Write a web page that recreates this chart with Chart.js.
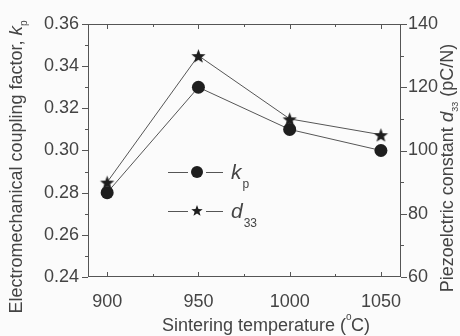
<!DOCTYPE html>
<html>
<head>
<meta charset="utf-8">
<script src="https://cdn.jsdelivr.net/npm/chart.js@4.4.1/dist/chart.umd.min.js"></script>
<style>
  html, body { margin: 0; padding: 0; background: #fbfbfb; }
  #wrap { width: 460px; height: 336px; position: relative; }
</style>
</head>
<body>
<div id="wrap"><canvas id="c" width="460" height="336"></canvas></div>
<script>
// data
const temps = [900, 950, 1000, 1050];
const kpValues = [0.28, 0.33, 0.31, 0.30];
const d33Values = [90, 130, 110, 105];
const xTickLabels = [900, 950, 1000, 1050];
const kpTicks = [0.24, 0.26, 0.28, 0.30, 0.32, 0.34, 0.36];
const d33Ticks = [60, 80, 100, 120, 140];

const INK = '#444';
const LINE = '#555';
const MARK = '#1e1e1e';
const FONT = '"Liberation Sans", Arial, sans-serif';

// filled five-point star for the d33 markers
function makeStar(r, color) {
  const cv = document.createElement('canvas');
  const s = Math.ceil(r * 2 + 2);
  cv.width = s; cv.height = s;
  const g = cv.getContext('2d');
  g.fillStyle = color;
  g.beginPath();
  for (let i = 0; i < 10; i++) {
    const rad = i % 2 === 0 ? r : r * 0.42;
    const a = -Math.PI / 2 + i * Math.PI / 5;
    const px = s / 2 + rad * Math.cos(a), py = s / 2 + 1 + rad * Math.sin(a);
    i ? g.lineTo(px, py) : g.moveTo(px, py);
  }
  g.closePath(); g.fill();
  return cv;
}
const star = makeStar(7.5, MARK);
const smallStar = makeStar(6, MARK);

// tick marks, frame, axis titles and legend drawn on top
const decor = {
  id: 'decor',
  afterDraw(chart) {
    const { ctx, chartArea: a, scales } = chart;
    const x = scales.x, yl = scales.y, yr = scales.y2;
    ctx.save();
    ctx.strokeStyle = LINE; ctx.lineWidth = 1;
    ctx.strokeRect(a.left + 0.5, a.top + 0.5, a.right - a.left - 1, a.bottom - a.top - 1);
    const seg = (x1, y1, x2, y2) => { ctx.beginPath(); ctx.moveTo(x1, y1); ctx.lineTo(x2, y2); ctx.stroke(); };
    // x ticks, inward top and bottom
    for (let v = 900; v <= 1050; v += 25) {
      const px = Math.round(x.getPixelForValue(v)) + 0.5;
      const len = v % 50 === 0 ? 5 : 3;
      seg(px, a.bottom, px, a.bottom - len);
      seg(px, a.top, px, a.top + len);
    }
    // left ticks outward
    for (let v = 0.24; v <= 0.3601; v += 0.01) {
      const py = Math.round(yl.getPixelForValue(v)) + 0.5;
      const major = Math.round(v * 100) % 2 === 0;
      seg(a.left, py, a.left - (major ? 6 : 3), py);
    }
    // right ticks outward
    for (let v = 60; v <= 140; v += 10) {
      const py = Math.round(yr.getPixelForValue(v)) + 0.5;
      seg(a.right, py, a.right + (v % 20 === 0 ? 6 : 3), py);
    }

    ctx.fillStyle = INK;
    ctx.textBaseline = 'alphabetic';
    // x title
    ctx.font = '18px ' + FONT;
    ctx.textAlign = 'left';
    let t1 = 'Sintering temperature (', t2 = 'C)';
    let w1 = ctx.measureText(t1).width, w2 = ctx.measureText(t2).width;
    let cx = 266 - (w1 + 5 + w2) / 2;
    ctx.fillText(t1, cx, 331);
    ctx.font = '10px ' + FONT;
    ctx.fillText('o', cx + w1, 320);
    ctx.font = '18px ' + FONT;
    ctx.fillText(t2, cx + w1 + 5, 331);

    // rotated y titles made of pieces
    const rotTitle = (xc, yc, parts) => {
      ctx.save();
      ctx.translate(xc, yc);
      ctx.rotate(-Math.PI / 2);
      let total = 0;
      parts.forEach(p => { ctx.font = p.f; total += ctx.measureText(p.t).width; });
      let pos = -total / 2;
      parts.forEach(p => {
        ctx.font = p.f;
        ctx.fillText(p.t, pos, p.dy || 0);
        pos += ctx.measureText(p.t).width;
      });
      ctx.restore();
    };
    rotTitle(22, 167, [
      { t: 'Electromechanical coupling factor, ', f: '18px ' + FONT },
      { t: 'k', f: 'italic 19px ' + FONT },
      { t: 'p', f: '10px ' + FONT, dy: 5 }
    ]);
    rotTitle(453, 168, [
      { t: 'Piezoelctric constant ', f: '18px ' + FONT },
      { t: 'd', f: 'italic 19px ' + FONT },
      { t: '33', f: '9px ' + FONT, dy: 5 },
      { t: ' (pC/N)', f: '18px ' + FONT }
    ]);

    // legend
    ctx.strokeStyle = LINE;
    const rows = [
      { y: 172, mark: 'circle', main: 'k', sub: 'p' },
      { y: 211, mark: 'star', main: 'd', sub: '33' }
    ];
    rows.forEach(r => {
      seg(168, r.y + 0.5, 188, r.y + 0.5);
      seg(206, r.y + 0.5, 223, r.y + 0.5);
      if (r.mark === 'circle') {
        ctx.fillStyle = MARK;
        ctx.beginPath(); ctx.arc(197, r.y, 6, 0, Math.PI * 2); ctx.fill();
      } else {
        ctx.drawImage(smallStar, 197 - smallStar.width / 2, r.y - smallStar.height / 2 - 1);
      }
      ctx.fillStyle = INK;
      ctx.font = 'italic 21px ' + FONT;
      ctx.fillText(r.main, 231, r.y + 7);
      const mw = ctx.measureText(r.main).width;
      ctx.font = '12px ' + FONT;
      ctx.fillText(r.sub, 231 + mw + 1, r.y + 16);
    });
    ctx.restore();
  }
};

const ctx = document.getElementById('c').getContext('2d');
new Chart(ctx, {
  type: 'line',
  data: {
    datasets: [
      {
        label: 'kp',
        data: temps.map((t, i) => ({ x: t, y: kpValues[i] })),
        yAxisID: 'y',
        borderColor: LINE, borderWidth: 1,
        pointStyle: 'circle', pointRadius: 6.5,
        pointBackgroundColor: MARK, pointBorderColor: MARK, pointBorderWidth: 0
      },
      {
        label: 'd33',
        data: temps.map((t, i) => ({ x: t, y: d33Values[i] })),
        yAxisID: 'y2',
        borderColor: LINE, borderWidth: 1,
        pointStyle: star, pointRadius: 8
      }
    ]
  },
  options: {
    responsive: false,
    animation: false,
    layout: { padding: { top: 24, left: 0, right: 0, bottom: 0 } },
    plugins: { legend: { display: false }, tooltip: { enabled: false } },
    scales: {
      x: {
        type: 'linear', min: 889.5, max: 1061,
        afterBuildTicks: s => { s.ticks = xTickLabels.map(v => ({ value: v })); },
        afterFit: s => { s.height = 59; },
        grid: { display: false, drawTicks: false },
        border: { display: false },
        ticks: { color: INK, font: { family: FONT, size: 18 }, padding: 14, maxRotation: 0,
                 callback: v => String(v) }
      },
      y: {
        position: 'left', min: 0.24, max: 0.36,
        afterBuildTicks: s => { s.ticks = kpTicks.map(v => ({ value: v })); },
        afterFit: s => { s.width = 88; },
        grid: { display: false, drawTicks: false },
        border: { display: false },
        ticks: { color: INK, font: { family: FONT, size: 18 }, padding: 9,
                 callback: v => v.toFixed(2) }
      },
      y2: {
        position: 'right', min: 60, max: 140,
        afterBuildTicks: s => { s.ticks = d33Ticks.map(v => ({ value: v })); },
        afterFit: s => { s.width = 59; },
        grid: { display: false, drawTicks: false },
        border: { display: false },
        ticks: { color: INK, font: { family: FONT, size: 18 }, padding: 7,
                 callback: v => String(v) }
      }
    }
  },
  plugins: [decor]
});
</script>
</body>
</html>
